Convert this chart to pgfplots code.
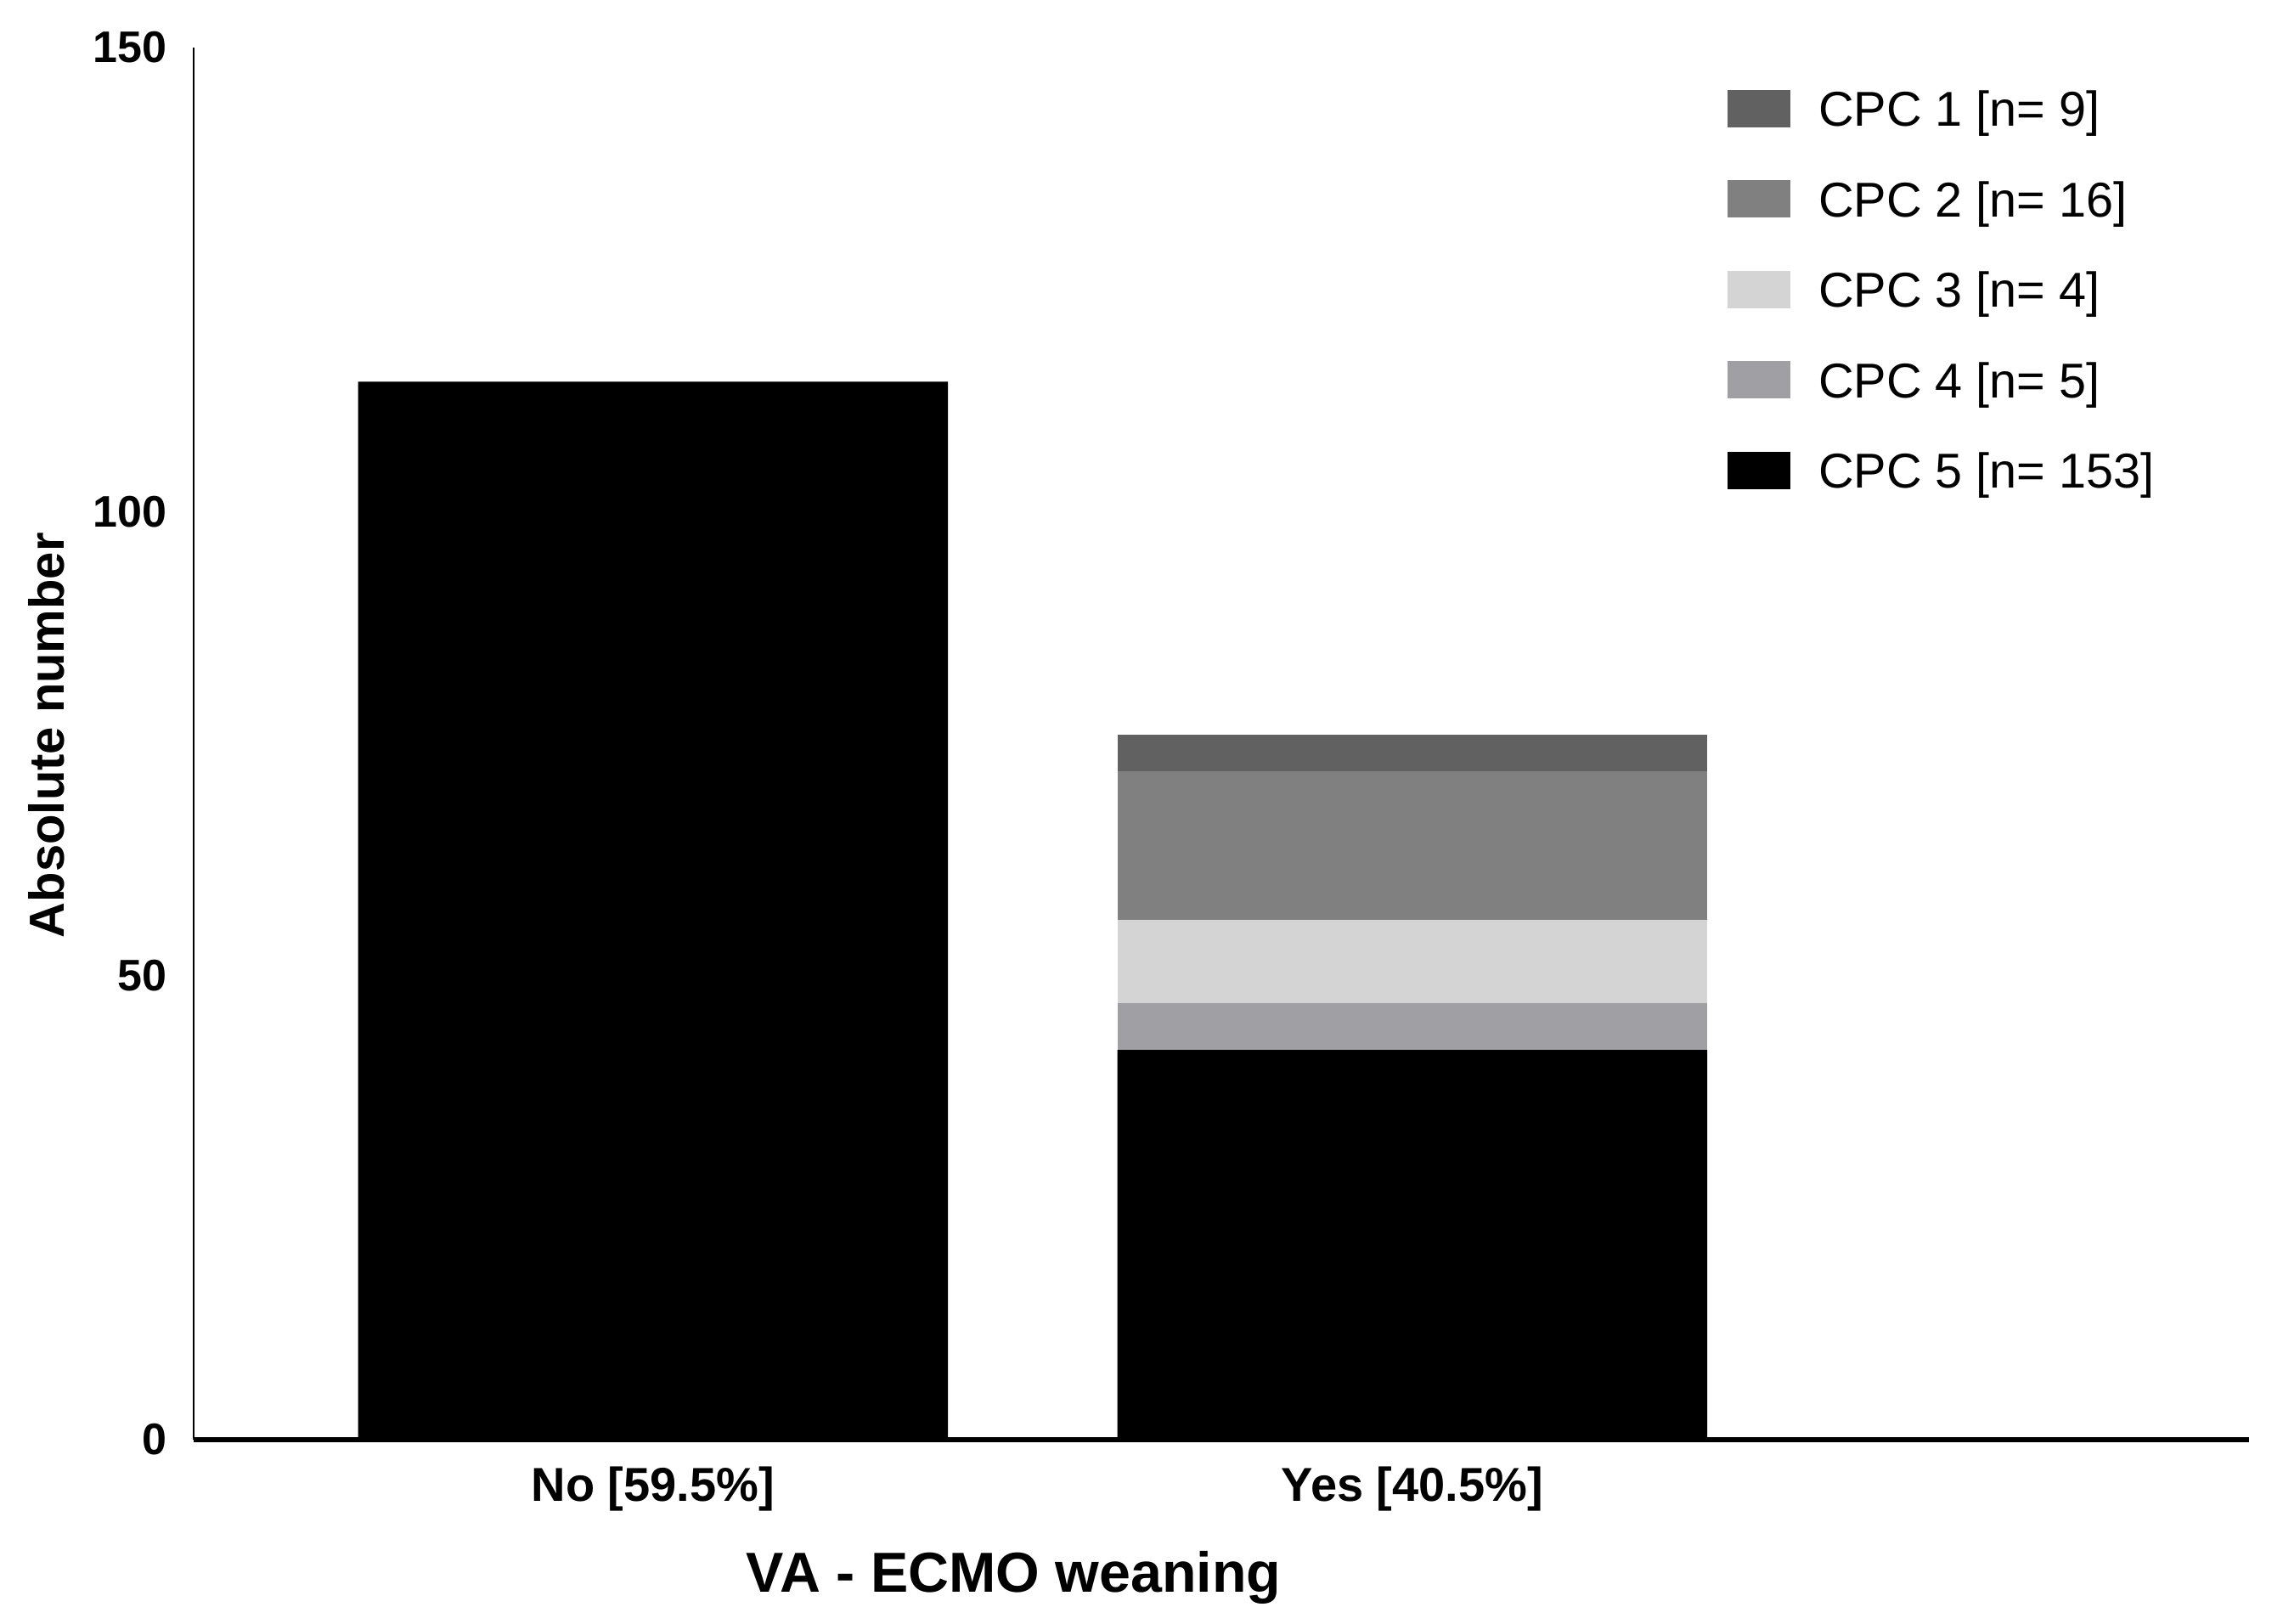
\documentclass[border=0pt]{standalone}
\usepackage{fontspec}
\setmainfont{Liberation Sans}
\usepackage{pgfplots}
\pgfplotsset{compat=1.18}
\definecolor{cpcA}{HTML}{616161}
\definecolor{cpcB}{HTML}{808080}
\definecolor{cpcC}{HTML}{D4D4D4}
\definecolor{cpcD}{HTML}{A0A0A4}
\definecolor{cpcE}{HTML}{000000}
\pgfplotsset{cpcleg/.style={legend image code/.code={\fill[##1] (0pt,-4.1pt) rectangle (18.5pt,6.9pt);}}}
\begin{document}
\begin{tikzpicture}
\useasboundingbox (-57pt,-54.25pt) rectangle (615pt,423.75pt);
\begin{axis}[
  at={(0pt,0pt)}, anchor=south west,
  scale only axis, width=605pt, height=409.75pt,
  xmin=-0.605, xmax=2.102, ymin=0, ymax=150,
  axis x line=bottom, axis y line=left,
  x axis line style={line width=1.7pt,-},
  y axis line style={line width=0.6pt,-},
  ybar stacked, bar width=0.777,
  xtick={0,1}, xticklabels={No [59.5\%],Yes [40.5\%]},
  ytick={0,50,100,150},
  major tick length=0pt,
  /pgf/number format/assume math mode=true,
  yticklabel style={font=\fontsize{13}{13}\selectfont\bfseries, anchor=east, inner sep=0pt, xshift=-7.75pt},
  xticklabel style={font=\fontsize{14}{14}\selectfont\bfseries, anchor=base, inner sep=0pt, yshift=-18.25pt},
  xlabel={VA - ECMO weaning},
  xlabel style={font=\fontsize{16.6}{16.6}\selectfont\bfseries, at={(axis description cs:0.399,-0.1098)}, anchor=base, inner sep=0pt},
  ylabel={Absolute number},
  ylabel style={font=\fontsize{14.5}{14.5}\selectfont\bfseries, at={(axis description cs:-0.063,0.506)}, anchor=base, rotate=0, inner sep=0pt},
  legend style={at={(axis description cs:0.7459,0.970)}, anchor=north west, draw=none, fill=none, inner sep=0pt, column sep=8.3pt, row sep=12.9pt, nodes={inner sep=0pt, text height=10.6pt, text depth=3.05pt, font=\fontsize{14.4}{14.4}\selectfont}},
  legend cell align=left, reverse legend,
]
\addplot[fill=cpcE, draw=none, cpcleg] coordinates {(0,114) (1,42)};
\addlegendentry{CPC 5 [n= 153]}
\addplot[fill=cpcD, draw=none, cpcleg] coordinates {(0,0) (1,5)};
\addlegendentry{CPC 4 [n= 5]}
\addplot[fill=cpcC, draw=none, cpcleg] coordinates {(0,0) (1,9)};
\addlegendentry{CPC 3 [n= 4]}
\addplot[fill=cpcB, draw=none, cpcleg] coordinates {(0,0) (1,16)};
\addlegendentry{CPC 2 [n= 16]}
\addplot[fill=cpcA, draw=none, cpcleg] coordinates {(0,0) (1,4)};
\addlegendentry{CPC 1 [n= 9]}
\end{axis}
\end{tikzpicture}
\end{document}
